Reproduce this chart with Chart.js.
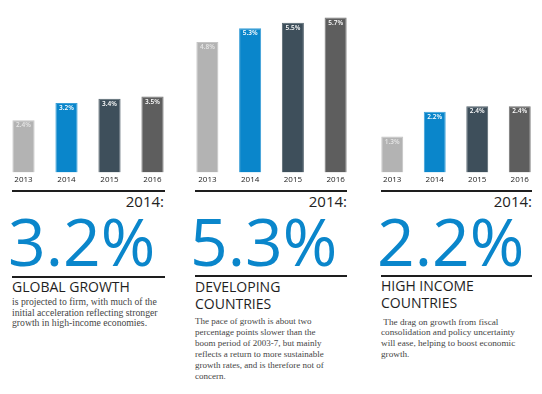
<!DOCTYPE html>
<html>
<head>
<meta charset="utf-8">
<script src="https://cdn.jsdelivr.net/npm/chart.js@4.4.1/dist/chart.umd.min.js"></script>
<style>
  html, body { margin: 0; padding: 0; background: #fff; }
  body { width: 542px; height: 394px; position: relative; overflow: hidden; font-family: "Open Sans", sans-serif; }
  .chart { position: absolute; top: 0; height: 188px; }
  .rule { position: absolute; height: 2px; background: #1e1e1e; }
  .year { position: absolute; font-size: 15px; color: #222; text-align: right; line-height: 20px; }
  .big { position: absolute; font-size: 66px; color: #0a86cb; line-height: 66px; white-space: nowrap; }
  .head { position: absolute; font-size: 14px; color: #1e1e1e; line-height: 16.7px; white-space: nowrap; }
  .body { position: absolute; font-family: "Liberation Serif", serif; color: #454545; white-space: nowrap; }
</style>
</head>
<body>

<div class="chart" style="left:2px;width:172px"><canvas id="c1"></canvas></div>
<div class="chart" style="left:186px;width:171px"><canvas id="c2"></canvas></div>
<div class="chart" style="left:371px;width:170px"><canvas id="c3"></canvas></div>

<!-- column 1 -->
<div class="rule" style="left:12px;top:190px;width:153px"></div>
<div class="year" style="left:12px;top:191px;width:152px">2014:</div>
<div class="big" style="left:8px;top:207px">3.2%</div>
<div class="rule" style="left:12px;top:276px;width:153px"></div>
<div class="head" style="left:12px;top:279px">GLOBAL GROWTH</div>
<div class="body" style="left:12px;top:297px;font-size:9.7px;line-height:10.5px">is projected to firm, with much of the<br>initial acceleration reflecting stronger<br>growth in high-income economies.</div>

<!-- column 2 -->
<div class="rule" style="left:195px;top:190px;width:152px"></div>
<div class="year" style="left:195px;top:191px;width:152px">2014:</div>
<div class="big" style="left:190px;top:207px">5.3%</div>
<div class="rule" style="left:195px;top:275px;width:152px"></div>
<div class="head" style="left:195px;top:279px">DEVELOPING<br>COUNTRIES</div>
<div class="body" style="left:195px;top:315.5px;font-size:9px;line-height:11px">The pace of growth is about two<br>percentage points slower than the<br>boom period of 2003-7, but mainly<br>reflects a return to more sustainable<br>growth rates, and is therefore not of<br>concern.</div>

<!-- column 3 -->
<div class="rule" style="left:381px;top:190px;width:151px"></div>
<div class="year" style="left:381px;top:191px;width:151px">2014:</div>
<div class="big" style="left:377px;top:207px">2.2%</div>
<div class="rule" style="left:381px;top:275px;width:151px"></div>
<div class="head" style="left:381px;top:278px">HIGH INCOME<br>COUNTRIES</div>
<div class="body" style="left:381px;top:316.5px;font-size:9.2px;line-height:10.8px">&nbsp;The drag on growth from fiscal<br>consolidation and policy uncertainty<br>will ease, helping to boost economic<br>growth.</div>

<script>
  // data
  var years = ['2013', '2014', '2015', '2016'];
  var globalGrowth = [2.4, 3.2, 3.4, 3.5];
  var developingGrowth = [4.8, 5.3, 5.5, 5.7];
  var highIncomeGrowth = [1.3, 2.2, 2.4, 2.4];

  var barColours = ['#b3b3b3', '#0a86cb', '#3e4f5b', '#5e5e5e'];
  var edgeColours = ['#c4c4c4', '#3a9fd8', '#57666f', '#747474'];

  // percentage label just inside the top of each bar
  var valueLabels = {
    id: 'valueLabels',
    afterDatasetsDraw: function (chart) {
      var ctx = chart.ctx;
      var meta = chart.getDatasetMeta(0);
      ctx.save();
      ctx.font = '600 6.5px "Open Sans", sans-serif';
      ctx.textAlign = 'center';
      ctx.textBaseline = 'top';
      meta.data.forEach(function (bar, i) {
        var v = chart.data.datasets[0].data[i];
        ctx.fillStyle = i === 0 ? '#e6e6e6' : '#ffffff';
        ctx.fillText(v.toFixed(1) + '%', bar.x, bar.y + 2);
      });
      ctx.restore();
    }
  };

  function buildChart(id, values, yMax) {
    return new Chart(document.getElementById(id), {
      type: 'bar',
      data: {
        labels: years,
        datasets: [{
          data: values,
          backgroundColor: barColours,
          borderColor: edgeColours,
          borderWidth: 1,
          barPercentage: 0.6,
          categoryPercentage: 0.86
        }]
      },
      options: {
        responsive: true,
        maintainAspectRatio: false,
        animation: false,
        layout: { padding: 0 },
        plugins: { legend: { display: false }, tooltip: { enabled: false } },
        scales: {
          x: {
            grid: { display: false, drawTicks: false },
            border: { display: false },
            ticks: { color: '#222', font: { size: 8, family: '"Open Sans", sans-serif' }, padding: 3 }
          },
          y: { display: false, min: 0, max: yMax }
        }
      },
      plugins: [valueLabels]
    });
  }

  buildChart('c1', globalGrowth, 7.95);
  buildChart('c2', developingGrowth, 6.34);
  buildChart('c3', highIncomeGrowth, 6.25);
</script>
</body>
</html>
